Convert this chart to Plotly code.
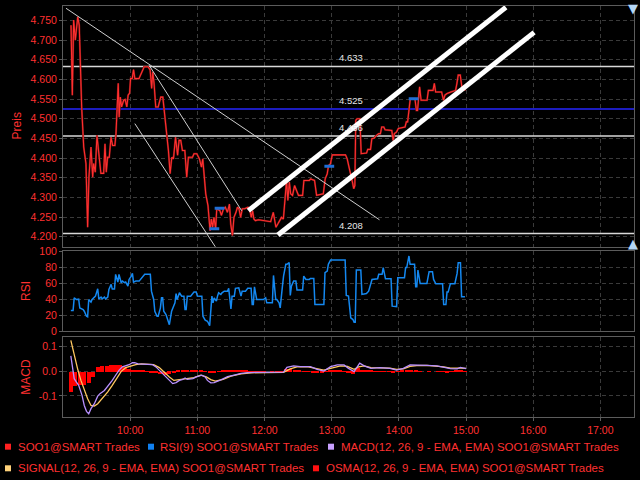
import plotly.graph_objects as go
import pandas as pd

DAY = "2024-01-02 "

# ---------------- data ----------------
price_times = [
    "09:07:10", "09:08:20", "09:09:30", "09:11:00", "09:13:10", "09:14:30", "09:16:40", "09:18:30", "09:20:30", "09:22:00",
    "09:23:10", "09:25:00", "09:26:30", "09:27:20", "09:28:50", "09:30:20", "09:32:20", "09:33:50", "09:36:20", "09:37:30",
    "09:38:40", "09:39:50", "09:41:20", "09:42:50", "09:44:20", "09:46:20", "09:47:20", "09:49:20", "09:50:10", "09:51:10",
    "09:52:20", "09:54:10", "09:55:30", "09:57:00", "09:58:10", "09:59:30", "10:00:20", "10:01:50", "10:03:00", "10:04:10",
    "10:07:50", "10:10:10", "10:12:30", "10:16:00", "10:17:50", "10:19:10", "10:20:10", "10:21:20", "10:22:50", "10:25:00",
    "10:27:20", "10:29:10", "10:30:50", "10:32:40", "10:34:10", "10:35:40", "10:37:10", "10:38:40", "10:40:30", "10:42:20",
    "10:43:40", "10:45:10", "10:46:40", "10:48:50", "10:50:30", "10:52:00", "10:55:40", "10:57:00", "10:59:30", "11:01:50",
    "11:03:40", "11:04:50", "11:06:00", "11:07:30", "11:09:30", "11:11:20", "11:12:30", "11:13:40", "11:14:50", "11:16:20",
    "11:17:20", "11:20:10", "11:21:30", "11:23:20", "11:25:00", "11:26:50", "11:28:40", "11:29:50", "11:31:20", "11:32:40",
    "11:34:30", "11:35:50", "11:37:10", "11:38:40", "11:40:10", "11:42:20", "11:45:10", "11:47:00", "11:48:10", "11:49:20",
    "11:50:30", "11:51:50", "11:54:40", "11:58:20", "12:02:30", "12:05:30", "12:07:50", "12:09:00", "12:10:10", "12:11:50",
    "12:13:40", "12:15:10", "12:16:50", "12:18:30", "12:19:40", "12:20:50", "12:22:10", "12:23:20", "12:25:00", "12:26:50",
    "12:28:40", "12:30:20", "12:34:00", "12:35:10", "12:40:00", "12:41:10", "12:44:40", "12:46:30", "12:52:30", "12:54:10",
    "12:56:00", "12:57:10", "12:58:50", "13:00:30", "13:12:20", "13:13:50", "13:16:10", "13:17:20", "13:18:30", "13:19:40",
    "13:20:40", "13:21:30", "13:22:40", "13:25:10", "13:26:20", "13:31:10", "13:32:10", "13:34:40", "13:35:50", "13:38:10",
    "13:39:20", "13:42:00", "13:43:30", "13:44:40", "13:46:30", "13:47:40", "13:53:40", "13:54:50", "13:56:00", "13:57:50",
    "13:59:30", "14:05:30", "14:06:40", "14:07:50", "14:09:10", "14:10:10", "14:14:20", "14:15:40", "14:16:40", "14:17:20",
    "14:18:30", "14:19:50", "14:25:10", "14:26:20", "14:30:30", "14:31:40", "14:32:50", "14:38:10", "14:39:50", "14:41:10",
    "14:43:00", "14:46:30", "14:50:40", "14:51:50", "14:53:00", "14:54:50", "14:56:20", "14:57:50", "14:59:20",
]
price_values = [
    4.738, 4.560, 4.751, 4.700, 4.759, 4.738, 4.530, 4.428, 4.386, 4.224,
    4.351, 4.428, 4.351, 4.386, 4.364, 4.458, 4.402, 4.361, 4.361, 4.436,
    4.364, 4.402, 4.402, 4.453, 4.432, 4.432, 4.462, 4.590, 4.504, 4.555,
    4.530, 4.547, 4.549, 4.530, 4.560, 4.565, 4.602, 4.602, 4.625, 4.602,
    4.602, 4.619, 4.632, 4.632, 4.624, 4.577, 4.619, 4.590, 4.530, 4.530,
    4.555, 4.555, 4.513, 4.470, 4.419, 4.360, 4.402, 4.398, 4.453, 4.407,
    4.445, 4.445, 4.419, 4.419, 4.351, 4.402, 4.402, 4.411, 4.411, 4.398,
    4.377, 4.398, 4.347, 4.309, 4.279, 4.215, 4.245, 4.224, 4.249, 4.220,
    4.271, 4.266, 4.254, 4.271, 4.275, 4.262, 4.283, 4.232, 4.203, 4.249,
    4.262, 4.275, 4.271, 4.249, 4.271, 4.271, 4.275, 4.266, 4.249, 4.266,
    4.245, 4.241, 4.243, 4.241, 4.240, 4.238, 4.262, 4.236, 4.224, 4.232,
    4.241, 4.249, 4.245, 4.292, 4.343, 4.292, 4.339, 4.309, 4.305, 4.330,
    4.317, 4.305, 4.305, 4.343, 4.343, 4.347, 4.343, 4.305, 4.309, 4.347,
    4.360, 4.381, 4.385, 4.408, 4.408, 4.398, 4.368, 4.356, 4.339, 4.322,
    4.330, 4.496, 4.500, 4.500, 4.411, 4.413, 4.422, 4.422, 4.449, 4.451,
    4.456, 4.462, 4.462, 4.479, 4.479, 4.472, 4.470, 4.445, 4.462, 4.466,
    4.475, 4.479, 4.492, 4.492, 4.521, 4.551, 4.551, 4.521, 4.521, 4.551,
    4.581, 4.547, 4.547, 4.572, 4.572, 4.590, 4.568, 4.568, 4.547, 4.560,
    4.564, 4.568, 4.572, 4.590, 4.611, 4.611, 4.579, 4.579, 4.572,
]

trade_times = ["11:15:10", "11:19:50", "12:57:50", "14:13:10"]
trade_prices = [4.220, 4.272, 4.379, 4.551]

level_values = [4.633, 4.525, 4.456, 4.208]
level_colors = ["#d9d9d9", "#2626ff", "#d9d9d9", "#d9d9d9"]

thin_trend_times = [["09:02:40", "13:42:40"], ["10:16:55", "11:39:35"], ["10:04:10", "11:16:25"]]
thin_trend_prices = [[4.781, 4.243], [4.636, 4.266], [4.4875, 4.1727]]
channel_times = [["11:45:33", "15:35:35"], ["12:11:56", "16:00:48"]]
channel_prices = [[4.2663, 4.7834], [4.2043, 4.7197]]

rsi_times = [
    "09:07", "09:09", "09:10", "09:12", "09:14", "09:15", "09:18", "09:19", "09:21", "09:22",
    "09:23", "09:25", "09:26", "09:28", "09:29", "09:31", "09:32", "09:34", "09:35", "09:37",
    "09:38", "09:40", "09:41", "09:43", "09:44", "09:46", "09:47", "09:49", "09:50", "09:52",
    "09:53", "09:55", "09:56", "09:58", "09:59", "10:01", "10:02", "10:03", "10:05", "10:08",
    "10:10", "10:11", "10:13", "10:18", "10:19", "10:21", "10:22", "10:24", "10:25", "10:27",
    "10:28", "10:29", "10:30", "10:32", "10:34", "10:35", "10:37", "10:38", "10:40", "10:41",
    "10:42", "10:44", "10:45", "10:46", "10:48", "10:49", "10:50", "10:51", "10:54", "10:57",
    "10:59", "11:00", "11:03", "11:04", "11:05", "11:07", "11:09", "11:11", "11:13", "11:14",
    "11:15", "11:17", "11:18", "11:19", "11:21", "11:22", "11:24", "11:27", "11:28", "11:30",
    "11:31", "11:33", "11:34", "11:36", "11:37", "11:39", "11:40", "11:43", "11:45", "11:48",
    "11:49", "11:50", "11:51", "11:53", "11:56", "11:59", "12:01", "12:02", "12:07", "12:08",
    "12:10", "12:11", "12:13", "12:14", "12:16", "12:17", "12:19", "12:20", "12:22", "12:23",
    "12:24", "12:25", "12:26", "12:28", "12:29", "12:34", "12:35", "12:37", "12:40", "12:41",
    "12:44", "12:45", "12:53", "12:54", "12:56", "12:57", "12:59", "13:12", "13:13", "13:15",
    "13:16", "13:17", "13:19", "13:20", "13:21", "13:22", "13:26", "13:27", "13:31", "13:33",
    "13:36", "13:41", "13:42", "13:45", "13:46", "13:48", "13:53", "13:54", "13:58", "13:59",
    "14:05", "14:06", "14:07", "14:09", "14:10", "14:14", "14:15", "14:16", "14:17", "14:19",
    "14:25", "14:27", "14:30", "14:31", "14:33", "14:39", "14:40", "14:42", "14:43", "14:44",
    "14:46", "14:50", "14:52", "14:53", "14:55", "14:56", "14:59",
]
rsi_values = [
    25.9, 25.9, 41.7, 39.6, 40.0, 29.0, 27.1, 25.0, 18.8, 18.0,
    39.6, 36.3, 39.6, 41.7, 43.8, 53.0, 40.4, 42.5, 40.4, 42.5,
    40.4, 42.5, 52.0, 58.4, 52.6, 52.6, 70.9, 61.3, 70.9, 60.5,
    62.5, 60.5, 61.3, 56.3, 64.6, 68.8, 72.1, 61.3, 62.5, 62.5,
    65.5, 66.7, 70.9, 70.9, 50.0, 39.6, 25.0, 18.8, 18.8, 29.2,
    41.7, 41.7, 25.0, 20.9, 12.5, 8.3, 25.0, 28.0, 35.4, 47.0,
    39.6, 48.0, 45.9, 43.8, 43.8, 27.0, 27.0, 43.8, 43.8, 48.8,
    48.8, 44.0, 43.8, 43.8, 18.8, 13.8, 12.5, 7.1, 43.8, 35.4,
    41.7, 37.5, 43.8, 47.9, 45.8, 47.9, 50.0, 50.0, 53.5, 28.0,
    43.8, 43.8, 53.5, 54.2, 54.2, 43.8, 50.0, 50.0, 53.5, 53.5,
    33.4, 33.4, 55.4, 39.6, 39.6, 39.6, 41.7, 35.4, 35.4, 69.6,
    39.6, 39.6, 35.4, 29.2, 56.3, 68.8, 83.4, 83.4, 85.5, 44.6,
    56.3, 60.5, 62.5, 62.5, 51.3, 51.3, 68.8, 64.6, 64.6, 65.8,
    65.8, 33.4, 33.4, 73.0, 75.0, 83.4, 88.8, 88.8, 44.6, 43.8,
    31.3, 16.8, 14.6, 11.3, 11.3, 76.3, 76.3, 45.9, 47.1, 50.0,
    64.6, 65.4, 70.9, 70.9, 79.3, 65.5, 65.5, 31.3, 30.8, 66.8,
    66.8, 79.3, 79.3, 93.8, 83.4, 83.4, 55.5, 55.5, 76.3, 59.6,
    59.6, 74.2, 74.2, 64.6, 59.2, 59.2, 33.4, 33.4, 48.8, 48.8,
    59.2, 59.2, 72.1, 85.5, 85.5, 43.0, 43.0,
]

macd_times = [
    "09:07", "09:09", "09:10", "09:12", "09:14", "09:17", "09:19", "09:21", "09:23", "09:25",
    "09:28", "09:31", "09:33", "09:37", "09:41", "09:44", "09:47", "09:50", "09:53", "09:56",
    "09:59", "10:02", "10:04", "10:07", "10:11", "10:17", "10:20", "10:23", "10:26", "10:29",
    "10:32", "10:35", "10:38", "10:41", "10:44", "10:47", "10:49", "10:51", "10:56", "10:59",
    "11:01", "11:04", "11:07", "11:09", "11:12", "11:15", "11:21", "11:27", "11:33", "11:39",
    "11:45", "12:02", "12:17", "12:20", "12:26", "12:32", "12:41", "12:47", "12:53", "12:59",
    "13:05", "13:11", "13:15", "13:20", "13:23", "13:25", "13:29", "13:35", "13:43", "13:52",
    "13:58", "14:04", "14:10", "14:16", "14:25", "14:34", "14:40", "14:46", "14:52", "14:55",
    "15:00",
]
macd_values = [
    0.063, -0.003, -0.030, -0.044, -0.057, -0.098, -0.139, -0.163, -0.173, -0.152,
    -0.132, -0.101, -0.091, -0.078, -0.057, -0.037, -0.016, 0.004, 0.018, 0.022,
    0.027, 0.035, 0.035, 0.030, 0.030, 0.030, 0.027, 0.018, 0.004, -0.010,
    -0.023, -0.039, -0.050, -0.046, -0.037, -0.033, -0.027, -0.033, -0.030, -0.023,
    -0.019, -0.016, -0.023, -0.037, -0.047, -0.046, -0.035, -0.022, -0.015, -0.008,
    -0.005, -0.005, -0.003, 0.016, 0.022, 0.019, 0.019, 0.008, 0.001, 0.019,
    0.026, 0.026, 0.012, -0.001, 0.019, 0.033, 0.022, 0.012, 0.015, 0.012,
    0.005, 0.012, 0.026, 0.024, 0.024, 0.022, 0.016, 0.011, 0.010, 0.016,
    0.011,
]

signal_times = [
    "09:07", "09:10", "09:13", "09:16", "09:19", "09:22", "09:25", "09:28", "09:31", "09:35",
    "09:40", "09:44", "09:49", "09:52", "09:56", "10:01", "10:05", "10:10", "10:17", "10:21",
    "10:26", "10:30", "10:35", "10:39", "10:45", "10:51", "10:57", "11:03", "11:08", "11:12",
    "11:16", "11:23", "11:30", "11:39", "11:48", "12:02", "12:17", "12:23", "12:29", "12:38",
    "12:47", "12:53", "12:59", "13:08", "13:14", "13:20", "13:24", "13:29", "13:35", "13:43",
    "13:52", "13:58", "14:04", "14:10", "14:16", "14:25", "14:34", "14:40", "14:46", "14:52",
    "14:55", "15:00",
]
signal_values = [
    0.126, 0.065, 0.011, -0.037, -0.078, -0.112, -0.139, -0.141, -0.132, -0.112,
    -0.084, -0.057, -0.023, 0.000, 0.015, 0.022, 0.027, 0.030, 0.030, 0.027,
    0.015, -0.003, -0.023, -0.037, -0.034, -0.030, -0.026, -0.016, -0.023, -0.034,
    -0.040, -0.033, -0.020, -0.010, -0.006, -0.005, -0.004, 0.010, 0.018, 0.019,
    0.012, 0.005, 0.012, 0.022, 0.020, 0.008, 0.018, 0.022, 0.015, 0.014,
    0.013, 0.008, 0.010, 0.020, 0.023, 0.024, 0.022, 0.018, 0.013, 0.011,
    0.013, 0.012,
]

osma_start = "09:07"
osma_step_minutes = 4
osma_values = [
    -0.083, -0.060, -0.055, -0.055, -0.045, -0.020, 0.018, 0.024, 0.024, 0.025,
    0.027, 0.026, 0.020, 0.012, 0.008, 0.004, 0.003, 0.002, -0.004, -0.006,
    -0.011, -0.012, -0.008, -0.002, 0.004, 0.007, 0.008, 0.008, 0.007, 0.005,
    0.002, -0.005, -0.006, 0.002, 0.004, 0.003, 0.005, 0.005, 0.004, 0.003,
    0.002, 0.001, 0.001, 0.001, 0.000, 0.001, 0.001, 0.002, 0.012, 0.009,
    0.005, 0.003, 0.001, 0.002, -0.002, -0.003, -0.005, 0.002, 0.006, 0.006,
    0.005, 0.001, -0.002, -0.008, 0.015, 0.008, 0.003, 0.003, 0.002, 0.001,
    -0.001, -0.001, -0.002, 0.002, 0.006, 0.008, 0.008, 0.007, 0.002, 0.000,
    0.001, 0.000, -0.001, -0.001, -0.002, 0.001, 0.003, 0.005, 0.002,
]

hour_ticks = ["10:00", "11:00", "12:00", "13:00", "14:00", "15:00", "16:00", "17:00"]

legend_labels = [
    "SOO1@SMART Trades",
    "RSI(9) SOO1@SMART Trades",
    "MACD(12, 26, 9 - EMA, EMA) SOO1@SMART Trades",
    "SIGNAL(12, 26, 9 - EMA, EMA) SOO1@SMART Trades",
    "OSMA(12, 26, 9 - EMA, EMA) SOO1@SMART Trades",
]

# ---------------- helpers ----------------
def T(lst):
    return pd.to_datetime([DAY + t for t in lst])

W, H = 640, 480
ML, MR, MT, MB = 63, 6, 6, 63
PW, PH = W - ML - MR, H - MT - MB


def px(x):
    return (x - ML) / PW


def py(y):
    return (H - MB - y) / PH


FONT = "Liberation Sans, Arial, sans-serif"
RED = "#ff3030"
GRID = "#3a3a3a"
BORDER = "#5c5c5c"

osma_x = pd.date_range(DAY + osma_start, periods=len(osma_values), freq=f"{osma_step_minutes}min")

fig = go.Figure()

# level lines (drawn as traces so they sit under the price line)
for v, c in zip(level_values, level_colors):
    fig.add_trace(go.Scatter(x=[DAY + "09:00", DAY + "17:30"], y=[v, v], mode="lines",
                             line=dict(color=c, width=1.5), xaxis="x", yaxis="y", hoverinfo="skip"))

# price panel
fig.add_trace(go.Scatter(x=T(price_times), y=price_values, mode="lines",
                         line=dict(color="#701010", width=2.0), xaxis="x", yaxis="y", hoverinfo="skip"))
fig.add_trace(go.Scatter(x=T(price_times), y=price_values, mode="lines",
                         line=dict(color="#ff3030", width=1.1), xaxis="x", yaxis="y"))
fig.add_trace(go.Scatter(x=T(trade_times), y=trade_prices, mode="markers",
                         marker=dict(symbol="line-ew", size=7, line=dict(color="#1f6fd6", width=3)),
                         xaxis="x", yaxis="y"))
for tt, pp in zip(thin_trend_times, thin_trend_prices):
    fig.add_trace(go.Scatter(x=T(tt), y=pp, mode="lines", line=dict(color="#cfcfcf", width=1),
                             xaxis="x", yaxis="y"))
for tt, pp in zip(channel_times, channel_prices):
    fig.add_trace(go.Scatter(x=T(tt), y=pp, mode="lines", line=dict(color="#ffffff", width=5),
                             xaxis="x", yaxis="y"))

# RSI panel
fig.add_trace(go.Scatter(x=T(rsi_times), y=rsi_values, mode="lines",
                         line=dict(color="#1488f0", width=1.5), xaxis="x2", yaxis="y2"))

# MACD panel
fig.add_trace(go.Bar(x=osma_x, y=osma_values, marker=dict(color="#ff0000", line=dict(width=0)),
                     width=osma_step_minutes * 60000 * 0.95, xaxis="x3", yaxis="y3"))
fig.add_trace(go.Scatter(x=T(signal_times), y=signal_values, mode="lines",
                         line=dict(color="#ffc860", width=1.3), xaxis="x3", yaxis="y3"))
fig.add_trace(go.Scatter(x=T(macd_times), y=macd_values, mode="lines",
                         line=dict(color="#b890ff", width=1.3), xaxis="x3", yaxis="y3"))

shapes = []
annotations = []
for v in level_values:
    annotations.append(dict(x=DAY + "13:05", y=v, xref="x", yref="y", text=f"{v:.3f}",
                            xanchor="left", yanchor="bottom", yshift=1, showarrow=False,
                            font=dict(color="#e6e6e6", size=9.5, family=FONT)))

# axis titles
for txt, xx, yy in [("Preis", 17, 126.4), ("RSI", 26, 291), ("MACD", 26, 376.7)]:
    annotations.append(dict(x=px(xx), y=py(yy), xref="paper", yref="paper", text=txt,
                            textangle=-90, showarrow=False, xanchor="center", yanchor="middle",
                            font=dict(color=RED, size=12, family=FONT)))

# scroll arrows on the right
annotations.append(dict(x=px(633), y=py(9), xref="paper", yref="paper", text="▼", showarrow=False,
                        font=dict(color="#b4d6f6", size=13, family="DejaVu Sans"),
                        xanchor="center", yanchor="middle"))
annotations.append(dict(x=px(633), y=py(243), xref="paper", yref="paper", text="▲", showarrow=False,
                        font=dict(color="#b4d6f6", size=13, family="DejaVu Sans"),
                        xanchor="center", yanchor="middle"))

# custom legend
legend_colors = ["#ff2020", "#1080f0", "#c8a0ff", "#ffd27a", "#ff1010"]
legend_pos = [(8, 15.5, 446.7), (151, 158, 446.7), (331, 339, 446.7), (8, 15.5, 468.3), (316, 324, 468.3)]
for lab, col, (sx, tx, yy) in zip(legend_labels, legend_colors, legend_pos):
    shapes.append(dict(type="rect", xref="paper", yref="paper", x0=px(sx - 3), x1=px(sx + 3),
                       y0=py(yy + 3), y1=py(yy - 3), fillcolor=col, line=dict(width=0)))
    annotations.append(dict(x=px(tx), y=py(yy), xref="paper", yref="paper", text=lab,
                            xanchor="left", yanchor="middle", showarrow=False,
                            font=dict(color=RED, size=11.5, family=FONT)))

xrange_ = [DAY + "09:00", DAY + "17:30"]
tickvals_x = [DAY + t for t in hour_ticks]

common_x = dict(type="date", range=xrange_, tickvals=tickvals_x, ticktext=hour_ticks,
                showgrid=True, gridcolor=GRID, griddash="4px,3px", gridwidth=1,
                showline=True, linecolor=BORDER, linewidth=1, mirror=True, zeroline=False,
                automargin=False,
                tickfont=dict(color=RED, size=10.5, family=FONT))
common_y = dict(showgrid=True, gridcolor=GRID, griddash="4px,3px", gridwidth=1,
                showline=True, linecolor=BORDER, linewidth=1, mirror=True, zeroline=False,
                ticks="outside", ticklen=3, tickcolor=BORDER, automargin=False,
                tickfont=dict(color=RED, size=10.5, family=FONT))

fig.update_layout(
    width=W, height=H,
    margin=dict(l=ML, r=MR, t=MT, b=MB, autoexpand=False),
    paper_bgcolor="#000000", plot_bgcolor="#000000",
    showlegend=False, bargap=0,
    font=dict(family=FONT, color=RED),
    xaxis=dict(common_x, anchor="y", showticklabels=False, ticks=""),
    xaxis2=dict(common_x, anchor="y2", showticklabels=False, ticks="", matches="x"),
    xaxis3=dict(common_x, anchor="y3", showticklabels=True, ticks="outside", ticklen=3,
                tickcolor=BORDER, matches="x"),
    yaxis=dict(common_y, domain=[py(246.7), 1.0], range=[4.1745, 4.7867], tick0=4.2, dtick=0.05,
               tickformat=".3f"),
    yaxis2=dict(common_y, domain=[py(331.3), py(251)], range=[0, 100], tick0=0, dtick=20),
    yaxis3=dict(common_y, domain=[0.0, py(336.7)], range=[-0.186, 0.141],
                tickvals=[-0.1, 0.0, 0.1], ticktext=["-0.1", "0.0", "0.1"]),
    shapes=shapes,
    annotations=annotations,
)

fig.write_html("out.html", config={"displayModeBar": False},
               post_script="document.body.style.margin='0';document.body.style.background='#000';")
